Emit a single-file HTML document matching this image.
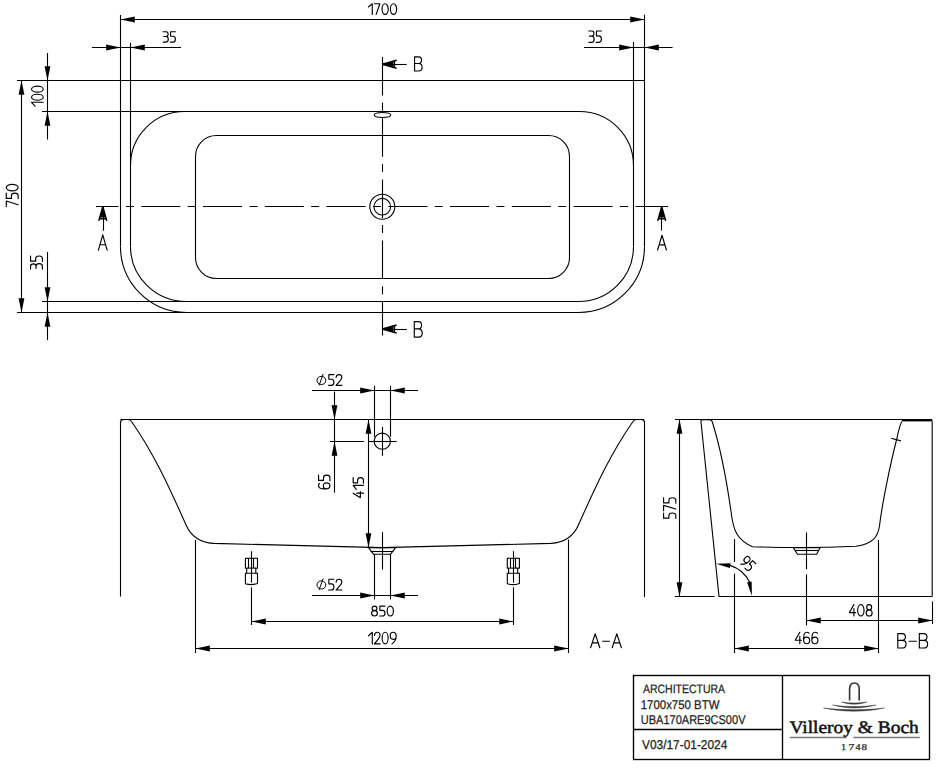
<!DOCTYPE html>
<html><head><meta charset="utf-8"><style>
html,body{margin:0;padding:0;background:#fff;}
svg{display:block;}
</style></head><body>
<svg width="936" height="768" viewBox="0 0 936 768" stroke="#000" stroke-linecap="butt" text-rendering="geometricPrecision">
<rect x="0" y="0" width="936" height="768" fill="#fff" stroke="none"/>
<line x1="120.4" y1="19.5" x2="644.4" y2="19.5" stroke-width="1.1" />
<path d="M120.50,19.50 L134.80,16.60 L134.80,22.40Z" fill="#000" stroke="none"/>
<path d="M644.50,19.50 L630.20,22.40 L630.20,16.60Z" fill="#000" stroke="none"/>
<path transform="translate(368.38,3.78) scale(0.9741,0.8875)" d="M0 3.6L4 0L4 12 M6.2 0L11.8 0L8 12 M17.2 0A3.2 6 0 0 0 17.2 12A3.2 6 0 0 0 17.2 0Z M25.8 0A3.2 6 0 0 0 25.8 12A3.2 6 0 0 0 25.8 0Z" fill="none" stroke="#000" stroke-width="1.15" vector-effect="non-scaling-stroke" stroke-linecap="round" stroke-linejoin="round"/>
<line x1="120.5" y1="15" x2="120.5" y2="246.5" stroke-width="1.1" />
<line x1="644.5" y1="14.7" x2="644.5" y2="246.5" stroke-width="1.1" />
<line x1="92" y1="47.5" x2="181" y2="47.5" stroke-width="1.1" />
<path d="M120.50,47.50 L106.20,50.40 L106.20,44.60Z" fill="#000" stroke="none"/>
<path d="M130.50,47.50 L144.80,44.60 L144.80,50.40Z" fill="#000" stroke="none"/>
<path transform="translate(163.17,31.77) scale(0.9142,0.8625)" d="M0 0L3.2 0C4.7 0 5.4 1.3 5.4 2.8C5.4 4.4 4.5 5.5 3 5.5L0.6 5.5M3 5.5C4.8 5.5 5.6 6.9 5.6 8.7C5.6 10.7 4.6 12 2.9 12L0 12 M13.4 0L8.1 0L8.1 5.2L10.7 5.2C12.5 5.2 13.4 6.6 13.4 8.6C13.4 10.7 12.4 12 10.7 12L7.8 12" fill="none" stroke="#000" stroke-width="1.15" vector-effect="non-scaling-stroke" stroke-linecap="round" stroke-linejoin="round"/>
<line x1="130.5" y1="42.7" x2="130.5" y2="246.5" stroke-width="1.1" />
<line x1="584" y1="47.5" x2="672.6" y2="47.5" stroke-width="1.1" />
<path d="M633.50,47.50 L619.20,50.40 L619.20,44.60Z" fill="#000" stroke="none"/>
<path d="M644.50,47.50 L658.80,44.60 L658.80,50.40Z" fill="#000" stroke="none"/>
<path transform="translate(588.88,30.97) scale(0.9366,0.9458)" d="M0 0L3.2 0C4.7 0 5.4 1.3 5.4 2.8C5.4 4.4 4.5 5.5 3 5.5L0.6 5.5M3 5.5C4.8 5.5 5.6 6.9 5.6 8.7C5.6 10.7 4.6 12 2.9 12L0 12 M13.4 0L8.1 0L8.1 5.2L10.7 5.2C12.5 5.2 13.4 6.6 13.4 8.6C13.4 10.7 12.4 12 10.7 12L7.8 12" fill="none" stroke="#000" stroke-width="1.15" vector-effect="non-scaling-stroke" stroke-linecap="round" stroke-linejoin="round"/>
<line x1="633.5" y1="42" x2="633.5" y2="246.5" stroke-width="1.1" />
<line x1="17" y1="80.5" x2="644.4" y2="80.5" stroke-width="1.1" />
<line x1="42" y1="111.5" x2="580" y2="111.5" stroke-width="1.1" />
<line x1="47.5" y1="53" x2="47.5" y2="139.5" stroke-width="1.1" />
<path d="M47.50,80.50 L44.60,66.20 L50.40,66.20Z" fill="#000" stroke="none"/>
<path d="M47.50,111.50 L50.40,125.80 L44.60,125.80Z" fill="#000" stroke="none"/>
<path transform="translate(31.57,106.02) rotate(-90) scale(0.9363,0.9708)" d="M0 3.6L4 0L4 12 M9.4 0A3.2 6 0 0 0 9.4 12A3.2 6 0 0 0 9.4 0Z M18 0A3.2 6 0 0 0 18 12A3.2 6 0 0 0 18 0Z" fill="none" stroke="#000" stroke-width="1.15" vector-effect="non-scaling-stroke" stroke-linecap="round" stroke-linejoin="round"/>
<line x1="21.5" y1="80.4" x2="21.5" y2="312.4" stroke-width="1.1" />
<path d="M21.50,80.50 L24.40,94.80 L18.60,94.80Z" fill="#000" stroke="none"/>
<path d="M21.50,312.50 L18.60,298.20 L24.40,298.20Z" fill="#000" stroke="none"/>
<path transform="translate(6.28,206.62) rotate(-90) scale(1.0114,0.9917)" d="M0 0L5.6 0L1.8 12 M13.4 0L8.1 0L8.1 5.2L10.7 5.2C12.5 5.2 13.4 6.6 13.4 8.6C13.4 10.7 12.4 12 10.7 12L7.8 12 M18.8 0A3.2 6 0 0 0 18.8 12A3.2 6 0 0 0 18.8 0Z" fill="none" stroke="#000" stroke-width="1.15" vector-effect="non-scaling-stroke" stroke-linecap="round" stroke-linejoin="round"/>
<line x1="47.5" y1="252" x2="47.5" y2="340" stroke-width="1.1" />
<path d="M47.50,301.50 L44.60,287.20 L50.40,287.20Z" fill="#000" stroke="none"/>
<path d="M47.50,312.50 L50.40,326.80 L44.60,326.80Z" fill="#000" stroke="none"/>
<path transform="translate(30.57,269.12) rotate(-90) scale(0.9813,0.9875)" d="M0 0L3.2 0C4.7 0 5.4 1.3 5.4 2.8C5.4 4.4 4.5 5.5 3 5.5L0.6 5.5M3 5.5C4.8 5.5 5.6 6.9 5.6 8.7C5.6 10.7 4.6 12 2.9 12L0 12 M13.4 0L8.1 0L8.1 5.2L10.7 5.2C12.5 5.2 13.4 6.6 13.4 8.6C13.4 10.7 12.4 12 10.7 12L7.8 12" fill="none" stroke="#000" stroke-width="1.15" vector-effect="non-scaling-stroke" stroke-linecap="round" stroke-linejoin="round"/>
<line x1="42" y1="301.5" x2="580" y2="301.5" stroke-width="1.1" />
<line x1="17" y1="312.5" x2="580" y2="312.5" stroke-width="1.1" />
<path d="M130.5,165.5 A54,54 0 0 1 184.5,111.5" stroke-width="1.1" fill="none" />
<path d="M633.5,165.5 A54,54 0 0 0 579.5,111.5" stroke-width="1.1" fill="none" />
<path d="M130.5,246.5 A56,55 0 0 0 186.5,301.5" stroke-width="1.1" fill="none" />
<path d="M633.5,246.5 A55,55 0 0 1 578.5,301.5" stroke-width="1.1" fill="none" />
<path d="M120.5,246.5 A66,66 0 0 0 186.5,312.5" stroke-width="1.1" fill="none" />
<path d="M644.5,246.5 A66,66 0 0 1 578.5,312.5" stroke-width="1.1" fill="none" />
<rect x="195.5" y="135.5" width="374" height="143" rx="21" ry="21" stroke-width="1.1" fill="none"/>
<ellipse cx="382.5" cy="115" rx="8.2" ry="2.5" stroke-width="1.1" fill="#fff"/>
<circle cx="382.3" cy="206.7" r="12.5" stroke-width="1.1" fill="none"/>
<circle cx="382.3" cy="206.7" r="8.3" stroke-width="1.1" fill="none"/>
<line x1="96" y1="206.5" x2="668" y2="206.5" stroke-width="1.1" stroke-dasharray="39 7.38 8 7.38" stroke-dashoffset="16.46"/>
<line x1="382.5" y1="57" x2="382.5" y2="335.6" stroke-width="1.1" stroke-dasharray="38.5 7.2 8 7.5"/>
<line x1="103.5" y1="206.6" x2="103.5" y2="230.7" stroke-width="1.1" />
<path d="M102.80,206.60 L106.80,220.90 M102.80,206.60 L98.80,220.90 M106.32,218.70 L99.28,218.70" stroke-width="1.5" fill="none"/>
<path d="M102.80,206.60 L106.00,217.60 L99.60,217.60Z" fill="#000" stroke="none"/>
<path transform="translate(98.38,234.88) scale(1.1824,1.2708)" d="M0 12L3.7 0L7.4 12M1.3 7.8L6.1 7.8" fill="none" stroke="#000" stroke-width="1.15" vector-effect="non-scaling-stroke" stroke-linecap="round" stroke-linejoin="round"/>
<line x1="661.5" y1="206.6" x2="661.5" y2="230.6" stroke-width="1.1" />
<path d="M661.70,206.60 L665.70,220.90 M661.70,206.60 L657.70,220.90 M665.22,218.70 L658.18,218.70" stroke-width="1.5" fill="none"/>
<path d="M661.70,206.60 L664.90,217.60 L658.50,217.60Z" fill="#000" stroke="none"/>
<path transform="translate(657.58,235.27) scale(1.1959,1.2292)" d="M0 12L3.7 0L7.4 12M1.3 7.8L6.1 7.8" fill="none" stroke="#000" stroke-width="1.15" vector-effect="non-scaling-stroke" stroke-linecap="round" stroke-linejoin="round"/>
<line x1="382.3" y1="64.5" x2="406.7" y2="64.5" stroke-width="1.1" />
<path d="M382.30,64.20 L396.60,60.20 M382.30,64.20 L396.60,68.20 M394.40,60.68 L394.40,67.72" stroke-width="1.5" fill="none"/>
<path d="M382.30,64.20 L393.30,61.00 L393.30,67.40Z" fill="#000" stroke="none"/>
<path transform="translate(414.57,56.88) scale(1.2177,1.1792)" d="M0 12L0 0L3.3 0C4.9 0 5.7 1.2 5.7 2.9C5.7 4.6 4.8 5.6 3.2 5.6L0 5.6M3.2 5.6C5.1 5.6 6.2 6.8 6.2 8.8C6.2 10.8 5.1 12 3.3 12L0 12" fill="none" stroke="#000" stroke-width="1.15" vector-effect="non-scaling-stroke" stroke-linecap="round" stroke-linejoin="round"/>
<line x1="382.3" y1="329.5" x2="406.8" y2="329.5" stroke-width="1.1" />
<path d="M382.30,329.00 L396.60,325.00 M382.30,329.00 L396.60,333.00 M394.40,325.48 L394.40,332.52" stroke-width="1.5" fill="none"/>
<path d="M382.30,329.00 L393.30,325.80 L393.30,332.20Z" fill="#000" stroke="none"/>
<path transform="translate(414.27,321.57) scale(1.2823,1.2958)" d="M0 12L0 0L3.3 0C4.9 0 5.7 1.2 5.7 2.9C5.7 4.6 4.8 5.6 3.2 5.6L0 5.6M3.2 5.6C5.1 5.6 6.2 6.8 6.2 8.8C6.2 10.8 5.1 12 3.3 12L0 12" fill="none" stroke="#000" stroke-width="1.15" vector-effect="non-scaling-stroke" stroke-linecap="round" stroke-linejoin="round"/>
<line x1="120.3" y1="419.5" x2="644.2" y2="419.5" stroke-width="1.1" />
<line x1="120.5" y1="421" x2="120.5" y2="596.5" stroke-width="1.1" />
<line x1="644.5" y1="421" x2="644.5" y2="597.2" stroke-width="1.1" />
<path d="M120.5,423 Q120.5,419.5 124,419.5 L128,419.5 Q130.5,419.6 131.5,421.5 C155,455 170.4,490.2 186.2,525.2 C191,536 200,542.5 213.5,543.4 Q300,545.5 382.25,547.6 Q464.5,545.5 551,543.4 C564.5,542.5 573.5,536 578.3,525.2 C594.1,490.2 609.5,455 633,421.5 Q634,419.6 636.5,419.5 L641,419.5 Q644.5,419.5 644.5,423" stroke-width="1.1" fill="none" />
<line x1="195.5" y1="540" x2="195.5" y2="653" stroke-width="1.1" />
<line x1="568.5" y1="539.5" x2="568.5" y2="653" stroke-width="1.1" />
<line x1="251.5" y1="551.2" x2="251.5" y2="582.7" stroke-width="1.1" />
<rect x="245.4" y="558.3" width="12.1" height="9.8" stroke-width="1.1" fill="none"/>
<line x1="248.5" y1="558.3" x2="248.5" y2="568.1" stroke-width="1.1" />
<line x1="253.5" y1="558.3" x2="253.5" y2="568.1" stroke-width="1.1" />
<path d="M246.7,568.1 L246.7,573.3 M255.8,568.1 L255.8,573.3" stroke-width="1.1" fill="none" />
<path d="M245.4,573.3 L257.5,573.3 L257.5,583.4 Q251.5,585.6 245.4,583.8 Z" stroke-width="1.1" fill="none" />
<line x1="251.5" y1="587.3" x2="251.5" y2="625" stroke-width="1.1" />
<line x1="513.5" y1="551.2" x2="513.5" y2="582.7" stroke-width="1.1" />
<rect x="507.29999999999995" y="558.3" width="12.1" height="9.8" stroke-width="1.1" fill="none"/>
<line x1="510.5" y1="558.3" x2="510.5" y2="568.1" stroke-width="1.1" />
<line x1="515.5" y1="558.3" x2="515.5" y2="568.1" stroke-width="1.1" />
<path d="M508.59999999999997,568.1 L508.59999999999997,573.3 M517.6999999999999,568.1 L517.6999999999999,573.3" stroke-width="1.1" fill="none" />
<path d="M507.29999999999995,573.3 L519.4,573.3 L519.4,583.4 Q513.4,585.6 507.29999999999995,583.8 Z" stroke-width="1.1" fill="none" />
<line x1="513.5" y1="587.3" x2="513.5" y2="625" stroke-width="1.1" />
<circle cx="382.3" cy="441.2" r="8.1" stroke-width="1.1" fill="none"/>
<line x1="382.5" y1="426.9" x2="382.5" y2="455.8" stroke-width="1.1" />
<line x1="369" y1="441.5" x2="396.7" y2="441.5" stroke-width="1.1" />
<line x1="312" y1="390.5" x2="418" y2="390.5" stroke-width="1.1" />
<path d="M374.50,390.50 L360.20,393.40 L360.20,387.60Z" fill="#000" stroke="none"/>
<path d="M390.50,390.50 L404.80,387.60 L404.80,393.40Z" fill="#000" stroke="none"/>
<line x1="374.5" y1="385.7" x2="374.5" y2="436.8" stroke-width="1.1" />
<line x1="390.5" y1="385.7" x2="390.5" y2="436.8" stroke-width="1.1" />
<ellipse cx="321.40000000000003" cy="380.45" rx="4.4" ry="4.1" stroke-width="1" fill="none"/>
<line x1="323.2" y1="374.0" x2="319.0" y2="385.5" stroke-width="1" />
<path transform="translate(328.57,374.57) scale(0.9536,0.8958)" d="M5.6 0L0.3 0L0.3 5.2L2.9 5.2C4.7 5.2 5.6 6.6 5.6 8.6C5.6 10.7 4.6 12 2.9 12L0 12 M7.9 3.2C8.1 1 9.4 0 10.9 0C12.7 0 13.9 1.3 13.9 3.1C13.9 4.6 13.1 5.6 12.2 6.7L7.8 12L14 12" fill="none" stroke="#000" stroke-width="1.15" vector-effect="non-scaling-stroke" stroke-linecap="round" stroke-linejoin="round"/>
<line x1="334.5" y1="391.6" x2="334.5" y2="492.6" stroke-width="1.1" />
<path d="M334.50,419.50 L331.60,405.20 L337.40,405.20Z" fill="#000" stroke="none"/>
<path d="M334.50,441.50 L337.40,455.80 L331.60,455.80Z" fill="#000" stroke="none"/>
<line x1="330" y1="441.5" x2="363.9" y2="441.5" stroke-width="1.1" />
<path transform="translate(318.57,488.82) rotate(-90) scale(0.9891,0.9458)" d="M5.4 0.8C4.9 0.3 4.1 0 3.2 0C1.2 0 0 2.2 0 6.2L0 8.4C0 10.6 1.2 12 3 12C4.8 12 6 10.6 6 8.4C6 6.3 4.8 5 3 5C1.3 5 0.2 6 0 7.6 M13.8 0L8.5 0L8.5 5.2L11.1 5.2C12.9 5.2 13.8 6.6 13.8 8.6C13.8 10.7 12.8 12 11.1 12L8.2 12" fill="none" stroke="#000" stroke-width="1.15" vector-effect="non-scaling-stroke" stroke-linecap="round" stroke-linejoin="round"/>
<line x1="368.5" y1="419.5" x2="368.5" y2="547.4" stroke-width="1.1" />
<path d="M368.50,419.50 L371.40,433.80 L365.60,433.80Z" fill="#000" stroke="none"/>
<path d="M368.50,547.50 L365.60,533.20 L371.40,533.20Z" fill="#000" stroke="none"/>
<path transform="translate(353.18,497.73) rotate(-90) scale(0.9975,0.8542)" d="M4.6 0L0 8.4L6.2 8.4M4.6 4.2L4.6 12 M8.4 3.6L12.4 0L12.4 12 M20.2 0L14.9 0L14.9 5.2L17.5 5.2C19.3 5.2 20.2 6.6 20.2 8.6C20.2 10.7 19.2 12 17.5 12L14.6 12" fill="none" stroke="#000" stroke-width="1.15" vector-effect="non-scaling-stroke" stroke-linecap="round" stroke-linejoin="round"/>
<path d="M368.4,547.6 L395.7,547.6 L390.6,554.2 L373.5,554.2 Z" stroke-width="1.1" fill="none" />
<line x1="370.5" y1="551.5" x2="393.3" y2="551.5" stroke-width="1.1" />
<line x1="374.5" y1="554.2" x2="374.5" y2="599.5" stroke-width="1.1" />
<line x1="390.5" y1="554.2" x2="390.5" y2="599.5" stroke-width="1.1" />
<line x1="382.5" y1="532" x2="382.5" y2="569.6" stroke-width="1.1" />
<line x1="312" y1="595.5" x2="418" y2="595.5" stroke-width="1.1" />
<path d="M374.50,595.50 L360.20,598.40 L360.20,592.60Z" fill="#000" stroke="none"/>
<path d="M390.50,595.50 L404.80,592.60 L404.80,598.40Z" fill="#000" stroke="none"/>
<ellipse cx="321.40000000000003" cy="584.9499999999999" rx="4.4" ry="4.1" stroke-width="1" fill="none"/>
<line x1="323.2" y1="578.5" x2="319.0" y2="590.0" stroke-width="1" />
<path transform="translate(328.57,579.28) scale(0.9536,0.8958)" d="M5.6 0L0.3 0L0.3 5.2L2.9 5.2C4.7 5.2 5.6 6.6 5.6 8.6C5.6 10.7 4.6 12 2.9 12L0 12 M7.9 3.2C8.1 1 9.4 0 10.9 0C12.7 0 13.9 1.3 13.9 3.1C13.9 4.6 13.1 5.6 12.2 6.7L7.8 12L14 12" fill="none" stroke="#000" stroke-width="1.15" vector-effect="non-scaling-stroke" stroke-linecap="round" stroke-linejoin="round"/>
<line x1="251.5" y1="621.5" x2="513.4" y2="621.5" stroke-width="1.1" />
<path d="M251.50,621.50 L265.80,618.60 L265.80,624.40Z" fill="#000" stroke="none"/>
<path d="M513.50,621.50 L499.20,624.40 L499.20,618.60Z" fill="#000" stroke="none"/>
<path transform="translate(371.57,606.08) scale(0.9754,0.8292)" d="M3 5.5C1.6 5.5 0.5 4.4 0.5 2.75C0.5 1.1 1.6 0 3 0C4.4 0 5.5 1.1 5.5 2.75C5.5 4.4 4.4 5.5 3 5.5C1.3 5.5 0 6.8 0 8.75C0 10.7 1.3 12 3 12C4.7 12 6 10.7 6 8.75C6 6.8 4.7 5.5 3 5.5Z M13.8 0L8.5 0L8.5 5.2L11.1 5.2C12.9 5.2 13.8 6.6 13.8 8.6C13.8 10.7 12.8 12 11.1 12L8.2 12 M19.2 0A3.2 6 0 0 0 19.2 12A3.2 6 0 0 0 19.2 0Z" fill="none" stroke="#000" stroke-width="1.15" vector-effect="non-scaling-stroke" stroke-linecap="round" stroke-linejoin="round"/>
<line x1="195.5" y1="648.5" x2="568.5" y2="648.5" stroke-width="1.1" />
<path d="M195.50,648.50 L209.80,645.60 L209.80,651.40Z" fill="#000" stroke="none"/>
<path d="M568.50,648.50 L554.20,651.40 L554.20,645.60Z" fill="#000" stroke="none"/>
<path transform="translate(368.57,632.28) scale(0.9312,0.9708)" d="M0 3.6L4 0L4 12 M6.3 3.2C6.5 1 7.8 0 9.3 0C11.1 0 12.3 1.3 12.3 3.1C12.3 4.6 11.5 5.6 10.6 6.7L6.2 12L12.4 12 M17.8 0A3.2 6 0 0 0 17.8 12A3.2 6 0 0 0 17.8 0Z M29.7 3.8C29.7 1.6 28.3 0 26.5 0C24.6 0 23.3 1.6 23.3 3.7C23.3 5.8 24.6 7.3 26.4 7.3C28.1 7.3 29.7 5.9 29.7 3.8C29.7 6.5 29 8.3 27.8 9.6L25.1 12" fill="none" stroke="#000" stroke-width="1.15" vector-effect="non-scaling-stroke" stroke-linecap="round" stroke-linejoin="round"/>
<path transform="translate(590.58,633.88) scale(1.2490,1.1542)" d="M0 12L3.7 0L7.4 12M1.3 7.8L6.1 7.8 M9.6 6.4L15.1 6.4 M17.3 12L21 0L24.7 12M18.6 7.8L23.4 7.8" fill="none" stroke="#000" stroke-width="1.15" vector-effect="non-scaling-stroke" stroke-linecap="round" stroke-linejoin="round"/>
<line x1="675" y1="419.5" x2="932.2" y2="419.5" stroke-width="1.1" />
<line x1="679.5" y1="419.5" x2="679.5" y2="596.4" stroke-width="1.1" />
<path d="M679.50,419.50 L682.40,433.80 L676.60,433.80Z" fill="#000" stroke="none"/>
<path d="M679.50,596.50 L676.60,582.20 L682.40,582.20Z" fill="#000" stroke="none"/>
<path transform="translate(663.58,518.42) rotate(-90) scale(0.9741,1.0208)" d="M5.6 0L0.3 0L0.3 5.2L2.9 5.2C4.7 5.2 5.6 6.6 5.6 8.6C5.6 10.7 4.6 12 2.9 12L0 12 M7.8 0L13.4 0L9.6 12 M21.2 0L15.9 0L15.9 5.2L18.5 5.2C20.3 5.2 21.2 6.6 21.2 8.6C21.2 10.7 20.2 12 18.5 12L15.6 12" fill="none" stroke="#000" stroke-width="1.15" vector-effect="non-scaling-stroke" stroke-linecap="round" stroke-linejoin="round"/>
<line x1="674.8" y1="596.5" x2="714.7" y2="596.5" stroke-width="1.1" />
<line x1="718.6" y1="596.5" x2="932.2" y2="596.5" stroke-width="1.1" />
<path d="M719,596.4 L701,422 Q700.8,419.6 703,419.6 L709.5,419.6 Q711.5,419.7 712.2,421.5" stroke-width="1.1" fill="none" />
<path d="M712.2,421.5 C718,440 726,475 731.5,515 C733.5,530 737,540 752.5,546.7 Q806,548.5 856,546.3 C872,544 878,538 879.6,525 C882,505 890,465 897,438 Q900.5,421 903.5,419.8 L930,419.7 Q932.2,419.7 932.2,422 L932.2,596.4" stroke-width="1.1" fill="none" />
<line x1="903" y1="420.5" x2="931" y2="420.5" stroke-width="1.8" />
<line x1="891.2" y1="438.3" x2="900.9" y2="440.9" stroke-width="1.1" />
<path d="M793.3,547.7 L820,547.7 L816.7,554.2 L797.5,554.2 Z" stroke-width="1.1" fill="none" />
<line x1="795" y1="550.5" x2="818.3" y2="550.5" stroke-width="1.1" />
<line x1="806.5" y1="532.5" x2="806.5" y2="569.2" stroke-width="1.1" />
<line x1="806.5" y1="574.2" x2="806.5" y2="625.4" stroke-width="1.1" />
<line x1="734.5" y1="539" x2="734.5" y2="561.9" stroke-width="1.1" />
<line x1="734.5" y1="573.6" x2="734.5" y2="653" stroke-width="1.1" />
<line x1="878.5" y1="540" x2="878.5" y2="653" stroke-width="1.1" />
<path d="M730,565.4 A32.8,32.8 0 0 1 749.9,582.6" stroke-width="1.1" fill="none" />
<path d="M716.00,563.80 L730.49,563.14 L729.91,567.91Z" fill="#000" stroke="none"/>
<path d="M751.90,596.00 L747.11,582.33 L751.64,581.52Z" fill="#000" stroke="none"/>
<path transform="translate(747.80,563.40) rotate(45) scale(0.8229,0.9042) translate(-7.200,-6)" d="M6.5 3.8C6.5 1.6 5.1 0 3.3 0C1.4 0 0.1 1.6 0.1 3.7C0.1 5.8 1.4 7.3 3.2 7.3C4.9 7.3 6.5 5.9 6.5 3.8C6.5 6.5 5.8 8.3 4.6 9.6L1.9 12 M14.4 0L9.1 0L9.1 5.2L11.7 5.2C13.5 5.2 14.4 6.6 14.4 8.6C14.4 10.7 13.4 12 11.7 12L8.8 12" fill="none" stroke="#000" stroke-width="1.15" vector-effect="non-scaling-stroke" stroke-linecap="round" stroke-linejoin="round"/>
<line x1="806.3" y1="620.5" x2="932.2" y2="620.5" stroke-width="1.1" />
<path d="M806.50,620.50 L820.80,617.60 L820.80,623.40Z" fill="#000" stroke="none"/>
<path d="M932.50,620.50 L918.20,623.40 L918.20,617.60Z" fill="#000" stroke="none"/>
<line x1="932.5" y1="601.4" x2="932.5" y2="624" stroke-width="1.1" />
<path transform="translate(849.38,604.58) scale(0.9891,0.9542)" d="M4.6 0L0 8.4L6.2 8.4M4.6 4.2L4.6 12 M11.6 0A3.2 6 0 0 0 11.6 12A3.2 6 0 0 0 11.6 0Z M20 5.5C18.6 5.5 17.5 4.4 17.5 2.75C17.5 1.1 18.6 0 20 0C21.4 0 22.5 1.1 22.5 2.75C22.5 4.4 21.4 5.5 20 5.5C18.3 5.5 17 6.8 17 8.75C17 10.7 18.3 12 20 12C21.7 12 23 10.7 23 8.75C23 6.8 21.7 5.5 20 5.5Z" fill="none" stroke="#000" stroke-width="1.15" vector-effect="non-scaling-stroke" stroke-linecap="round" stroke-linejoin="round"/>
<line x1="734.5" y1="648.5" x2="878.4" y2="648.5" stroke-width="1.1" />
<path d="M734.50,648.50 L748.80,645.60 L748.80,651.40Z" fill="#000" stroke="none"/>
<path d="M878.50,648.50 L864.20,651.40 L864.20,645.60Z" fill="#000" stroke="none"/>
<path transform="translate(795.18,632.28) scale(1.0066,0.9542)" d="M4.6 0L0 8.4L6.2 8.4M4.6 4.2L4.6 12 M13.8 0.8C13.3 0.3 12.5 0 11.6 0C9.6 0 8.4 2.2 8.4 6.2L8.4 8.4C8.4 10.6 9.6 12 11.4 12C13.2 12 14.4 10.6 14.4 8.4C14.4 6.3 13.2 5 11.4 5C9.7 5 8.6 6 8.4 7.6 M22 0.8C21.5 0.3 20.7 0 19.8 0C17.8 0 16.6 2.2 16.6 6.2L16.6 8.4C16.6 10.6 17.8 12 19.6 12C21.4 12 22.6 10.6 22.6 8.4C22.6 6.3 21.4 5 19.6 5C17.9 5 16.8 6 16.6 7.6" fill="none" stroke="#000" stroke-width="1.15" vector-effect="non-scaling-stroke" stroke-linecap="round" stroke-linejoin="round"/>
<path transform="translate(897.78,633.58) scale(1.3386,1.2042)" d="M0 12L0 0L3.3 0C4.9 0 5.7 1.2 5.7 2.9C5.7 4.6 4.8 5.6 3.2 5.6L0 5.6M3.2 5.6C5.1 5.6 6.2 6.8 6.2 8.8C6.2 10.8 5.1 12 3.3 12L0 12 M8.4 6.4L13.9 6.4 M16.1 12L16.1 0L19.4 0C21 0 21.8 1.2 21.8 2.9C21.8 4.6 20.9 5.6 19.3 5.6L16.1 5.6M19.3 5.6C21.2 5.6 22.3 6.8 22.3 8.8C22.3 10.8 21.2 12 19.4 12L16.1 12" fill="none" stroke="#000" stroke-width="1.15" vector-effect="non-scaling-stroke" stroke-linecap="round" stroke-linejoin="round"/>
<rect x="633.5" y="675.5" width="296" height="84" stroke-width="1.35" fill="none"/>
<line x1="782.5" y1="675.6" x2="782.5" y2="759.2" stroke-width="1.35" />
<line x1="633.5" y1="729.5" x2="781.8" y2="729.5" stroke-width="1.35" />
<text transform="translate(642.98,692.68) scale(0.8622,1)" font-family='"Liberation Sans", sans-serif' font-size="12.15" fill="#222" stroke="#222" stroke-width="0.25">ARCHITECTURA</text>
<text transform="translate(640.73,708.88) scale(0.9096,1)" font-family='"Liberation Sans", sans-serif' font-size="12.57" fill="#222" stroke="#222" stroke-width="0.25">1700x750 BTW</text>
<text transform="translate(640.75,723.88) scale(0.8673,1)" font-family='"Liberation Sans", sans-serif' font-size="12.71" fill="#222" stroke="#222" stroke-width="0.25">UBA170ARE9CS00V</text>
<text transform="translate(641.95,749.08) scale(0.9302,1)" font-family='"Liberation Sans", sans-serif' font-size="12.80" fill="#222" stroke="#222" stroke-width="0.25">V03/17-01-2024</text>
<path d="M849.6,700.5 L849.6,689 Q849.6,683 854.4,683 Q859.2,683 859.2,689 L859.2,700.5" stroke-width="1.6" fill="none" stroke="#333"/>
<path d="M841.5,702.0 C850,703.3 858.5,703.3 867,702.0 C858.5,705.0 850,705.0 841.5,702.0Z" fill="#333" stroke="#333" stroke-width="0.4"/>
<path d="M832.5,705 C847,707.0 861.7,707.0 876.2,705 C861.7,709.0 847,709.0 832.5,705Z" fill="#333" stroke="#333" stroke-width="0.4"/>
<path d="M823.5,708.0 C843.8,710.3 864.2,710.3 884.5,708.0 C864.2,712.3 843.8,712.3 823.5,708.0Z" fill="#333" stroke="#333" stroke-width="0.4"/>
<text transform="translate(789.48,733.20) scale(1.1037,1)" font-family='"Liberation Serif", serif' font-size="17.59" fill="#111" stroke="#111" stroke-width="0.5">Villeroy &amp; Boch</text>
<line x1="789.7" y1="737.5" x2="846.7" y2="737.5" stroke-width="1.3" stroke="#777"/>
<line x1="853.3" y1="737.5" x2="919.7" y2="737.5" stroke-width="1.3" stroke="#777"/>
<text transform="translate(841.10,749.70) scale(1.1442,1)" font-family='"Liberation Serif", serif' font-size="8.94" fill="#333" stroke="#333" stroke-width="0.3">1</text>
<text transform="translate(848.54,749.70) scale(1.2871,1)" font-family='"Liberation Serif", serif' font-size="9.01" fill="#333" stroke="#333" stroke-width="0.3">7</text>
<text transform="translate(855.40,749.70) scale(1.1280,1)" font-family='"Liberation Serif", serif' font-size="8.96" fill="#333" stroke="#333" stroke-width="0.3">4</text>
<text transform="translate(861.58,749.61) scale(1.2683,1)" font-family='"Liberation Serif", serif' font-size="8.74" fill="#333" stroke="#333" stroke-width="0.3">8</text>
</svg>
</body></html>
